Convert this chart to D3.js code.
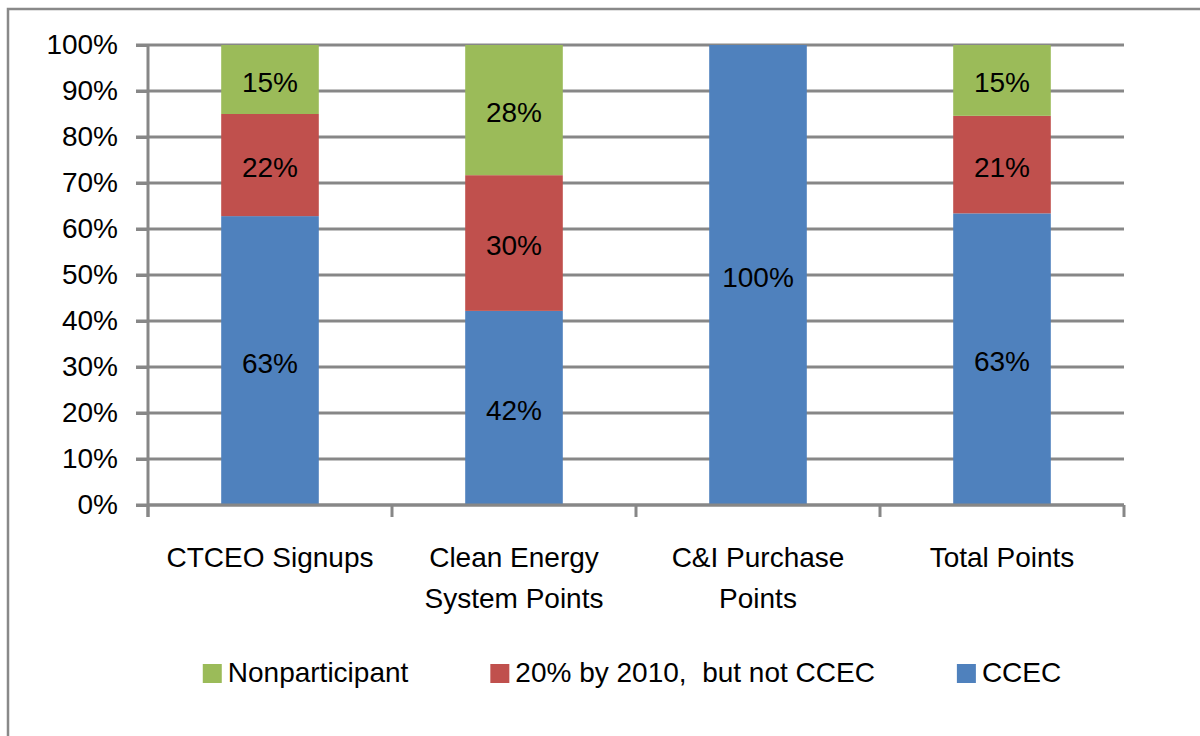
<!DOCTYPE html>
<html>
  <head>
    <title>CCEC participation</title>
    <style>
    body {
        margin: 0px;
        overflow: hidden;
        background: white;
    }

    text {
        font-family: 'Liberation Sans', Arial, sans-serif;
        font-size: 28px;
        fill: black;
    }

    .grid line, .tick line, .domain {
        stroke: #878787;
        stroke-width: 3;
    }
    </style>
    <script src="https://d3js.org/d3.v7.min.js"></script>
  </head>
  <body>

    <svg width="1200" height="736"></svg>

    <script>
        // chart data
        const categories = ['CTCEO Signups', 'Clean Energy System Points', 'C&I Purchase Points', 'Total Points'];
        const ccec = [62.8, 42.2, 100, 63.4];
        const notCcec = [22.2, 29.5, 0, 21.2];
        const nonparticipant = [15.0, 28.3, 0, 15.4];
        const dataLabels = [
            ['63%', '42%', '100%', '63%'],
            ['22%', '30%', '', '21%'],
            ['15%', '28%', '', '15%']
        ];
        const seriesNames = ['CCEC', '20% by 2010,\u00a0 but not CCEC', 'Nonparticipant'];
        const seriesColors = ['#4F81BD', '#C0504D', '#9BBB59'];
        const yTicks = [0, 10, 20, 30, 40, 50, 60, 70, 80, 90, 100];

        const svg = d3.select('svg');
        const width = +svg.attr('width');
        const height = +svg.attr('height');

        // outer chart border: only top and left edges are inside the picture
        svg.append('path')
            .attr('d', `M${width},9H8V${height}`)
            .attr('fill', 'none')
            .attr('stroke', '#898989')
            .attr('stroke-width', 2.5);

        const margin = { top: 45, left: 148 };
        const innerWidth = 976;
        const innerHeight = 460;

        const g = svg.append('g')
            .attr('transform', `translate(${margin.left},${margin.top})`);

        const xScale = d3.scaleBand()
            .domain(categories)
            .range([0, innerWidth]);

        const yScale = d3.scaleLinear()
            .domain([0, 100])
            .range([innerHeight, 0]);

        // gridlines
        g.append('g').attr('class', 'grid')
            .selectAll('line').data(yTicks)
            .enter().append('line')
            .attr('x1', -12)
            .attr('x2', innerWidth)
            .attr('y1', d => yScale(d))
            .attr('y2', d => yScale(d));

        // y axis
        const yAxis = d3.axisLeft(yScale)
            .tickValues(yTicks)
            .tickSize(12)
            .tickPadding(18)
            .tickFormat(d => d + '%');
        const yAxisG = g.append('g').call(yAxis)
            .attr('font-size', null)
            .attr('font-family', null);
        yAxisG.select('.domain').attr('d', `M0,0V${innerHeight + 12}`);
        yAxisG.selectAll('.tick text')
            .attr('text-anchor', 'end')
            .attr('fill', 'black');

        // stacked bars
        const rows = categories.map((c, i) => ({
            category: c,
            s0: ccec[i],
            s1: notCcec[i],
            s2: nonparticipant[i]
        }));
        const stacked = d3.stack().keys(['s0', 's1', 's2'])(rows);

        const barWidth = xScale.bandwidth() * 0.4;
        const barOffset = (xScale.bandwidth() - barWidth) / 2;

        const layers = g.selectAll('.layer').data(stacked)
            .enter().append('g')
            .attr('class', 'layer')
            .attr('fill', (d, i) => seriesColors[i]);

        layers.selectAll('rect').data(d => d.filter(seg => seg[1] > seg[0]))
            .enter().append('rect')
            .attr('x', d => xScale(d.data.category) + barOffset)
            .attr('width', barWidth)
            .attr('y', d => yScale(d[1]))
            .attr('height', d => yScale(d[0]) - yScale(d[1]));

        // data labels, centred in each segment
        const labelRows = [];
        stacked.forEach((layer, i) => {
            layer.forEach((seg, j) => {
                if (dataLabels[i][j]) labelRows.push({ seg, label: dataLabels[i][j] });
            });
        });
        g.append('g').selectAll('text').data(labelRows)
            .enter().append('text')
            .attr('x', d => xScale(d.seg.data.category) + xScale.bandwidth() / 2)
            .attr('y', d => (yScale(d.seg[0]) + yScale(d.seg[1])) / 2 + 12)
            .attr('text-anchor', 'middle')
            .text(d => d.label);

        // x axis line with ticks at band edges
        const xAxisG = g.append('g')
            .attr('transform', `translate(0,${innerHeight})`);
        xAxisG.append('path')
            .attr('class', 'domain')
            .attr('fill', 'none')
            .attr('d', `M0,0H${innerWidth}`);
        const edges = categories.map(c => xScale(c)).concat([innerWidth]);
        xAxisG.selectAll('.tick').data(edges)
            .enter().append('g').attr('class', 'tick')
            .append('line')
            .attr('x1', d => d)
            .attr('x2', d => d)
            .attr('y1', 0)
            .attr('y2', 12);

        // category labels, wrapped to the band width, one text per line
        const lineRows = [];
        categories.forEach(c => {
            const probe = xAxisG.append('text');
            const words = c.split(' ');
            let line = [];
            const lines = [];
            words.forEach(w => {
                line.push(w);
                probe.text(line.join(' '));
                if (probe.node().getComputedTextLength() > 225 && line.length > 1) {
                    line.pop();
                    lines.push(line.join(' '));
                    line = [w];
                }
            });
            lines.push(line.join(' '));
            probe.remove();
            lines.forEach((l, k) => lineRows.push({ category: c, text: l, k }));
        });
        xAxisG.selectAll('.xlabel').data(lineRows)
            .enter().append('text')
            .attr('class', 'xlabel')
            .attr('text-anchor', 'middle')
            .attr('x', d => xScale(d.category) + xScale.bandwidth() / 2)
            .attr('y', d => 62 + d.k * 41)
            .text(d => d.text);

        // legend
        const legendOrder = [2, 1, 0];
        const legend = svg.append('g');
        const items = legend.selectAll('g').data(legendOrder)
            .enter().append('g');
        items.append('rect')
            .attr('width', 19)
            .attr('height', 19)
            .attr('y', 664)
            .attr('fill', d => seriesColors[d]);
        items.append('text')
            .attr('x', 25)
            .attr('y', 682)
            .text(d => seriesNames[d]);

        const widths = [];
        items.each(function () {
            widths.push(d3.select(this).select('text').node().getComputedTextLength() + 25);
        });
        const gap = 82;
        const total = d3.sum(widths) + gap * (widths.length - 1);
        let cursor = 632 - total / 2;
        items.attr('transform', (d, i) => {
            const t = `translate(${cursor},0)`;
            cursor += widths[i] + gap;
            return t;
        });
    </script>
  </body>
</html>
